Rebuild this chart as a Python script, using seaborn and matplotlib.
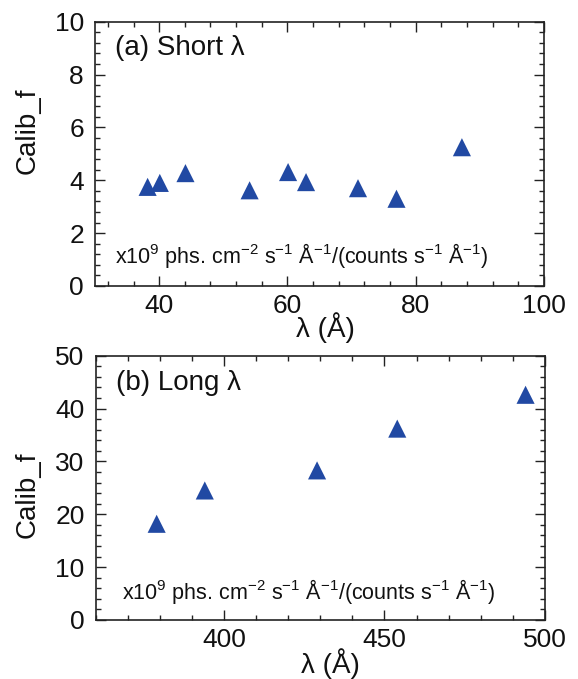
import matplotlib
matplotlib.use("Agg")
import matplotlib.pyplot as plt
import seaborn as sns
import pandas as pd
from matplotlib.ticker import MultipleLocator

# (a) short wavelengths
short_wl = [38.2, 40.1, 44.1, 54.1, 60.1, 62.9, 71.0, 77.0, 87.2]
short_cal = [3.75, 3.9, 4.27, 3.62, 4.31, 3.93, 3.7, 3.3, 5.25]

# (b) long wavelengths
long_wl = [379, 394, 429, 454, 494]
long_cal = [18.2, 24.5, 28.3, 36.2, 42.6]

units = r"x10$^{9}$ phs. cm$^{-2}$ s$^{-1}$ Å$^{-1}$/(counts s$^{-1}$ Å$^{-1}$)"

sns.set_style("ticks")
plt.rcParams["font.family"] = ["Liberation Sans", "DejaVu Sans"]
plt.rcParams["mathtext.fontset"] = "custom"
plt.rcParams["mathtext.rm"] = "Liberation Sans"
plt.rcParams["mathtext.it"] = "Liberation Sans"
plt.rcParams["text.color"] = "#111111"
plt.rcParams["axes.labelcolor"] = "#111111"

blue = "#2149a3"

fig = plt.figure(figsize=(5.78, 6.79), dpi=100)
ax1 = fig.add_axes([0.1644, 0.5788, 0.7768, 0.3893])
ax2 = fig.add_axes([0.1656, 0.0869, 0.7770, 0.3893])

df_a = pd.DataFrame({"wl": short_wl, "cal": short_cal})
df_b = pd.DataFrame({"wl": long_wl, "cal": long_cal})

sns.scatterplot(data=df_a, x="wl", y="cal", ax=ax1, marker="^", s=170,
                color=blue, edgecolor="none", zorder=3)
sns.scatterplot(data=df_b, x="wl", y="cal", ax=ax2, marker="^", s=170,
                color=blue, edgecolor="none", zorder=3)

ax1.set_xlim(30, 100)
ax1.set_ylim(0, 10)
ax1.xaxis.set_major_locator(MultipleLocator(20))
ax1.xaxis.set_minor_locator(MultipleLocator(4))
ax1.yaxis.set_major_locator(MultipleLocator(2))
ax1.yaxis.set_minor_locator(MultipleLocator(0.4))

ax2.set_xlim(360, 500)
ax2.set_ylim(0, 50)
ax2.xaxis.set_major_locator(MultipleLocator(50))
ax2.xaxis.set_minor_locator(MultipleLocator(10))
ax2.yaxis.set_major_locator(MultipleLocator(10))
ax2.yaxis.set_minor_locator(MultipleLocator(2))

for ax in (ax1, ax2):
    for sp in ax.spines.values():
        sp.set_visible(True)
        sp.set_linewidth(1.2)
        sp.set_color("#222222")
    ax.tick_params(which="both", direction="in", top=True, right=True,
                   colors="#222222", labelcolor="#111111", width=1.0)
    ax.tick_params(which="major", length=7, labelsize=19)
    ax.tick_params(axis="x", which="major", pad=6)
    ax.tick_params(axis="y", which="major", pad=8)
    ax.tick_params(which="minor", length=3.5)
    ax.set_xlabel("λ (Å)", fontsize=20)
    ax.set_ylabel("Calib_f", fontsize=20)

ax1.yaxis.set_label_coords(-0.122, 0.586)
ax1.xaxis.set_label_coords(0.514, -0.10)
ax2.yaxis.set_label_coords(-0.122, 0.473)
ax2.xaxis.set_label_coords(0.522, -0.105)

ax1.text(0.045, 0.90, "(a) Short λ", transform=ax1.transAxes, fontsize=20,
         ha="left", va="center")
ax2.text(0.045, 0.897, "(b) Long λ", transform=ax2.transAxes, fontsize=20,
         ha="left", va="center")
ax1.text(0.045, 0.117, units, transform=ax1.transAxes, fontsize=15.5,
         ha="left", va="center")
ax2.text(0.058, 0.107, units, transform=ax2.transAxes, fontsize=15.5,
         ha="left", va="center")

fig.savefig("out.png", dpi=100)
